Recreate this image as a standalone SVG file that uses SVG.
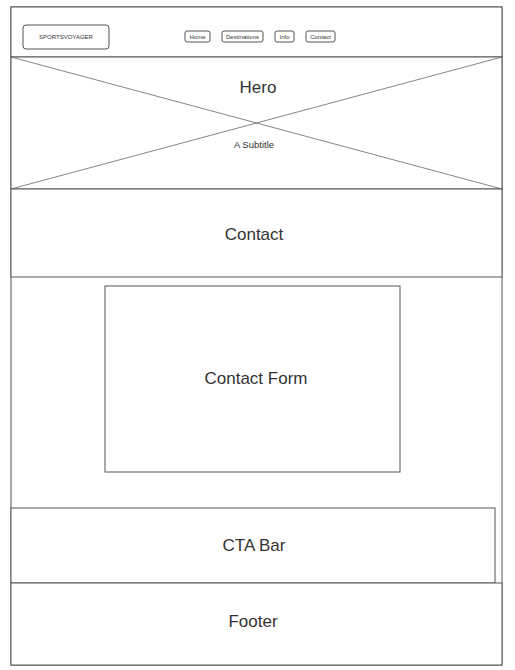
<svg xmlns="http://www.w3.org/2000/svg" width="515" height="670" viewBox="0 0 515 670">
<style>
.box{fill:#fff;stroke:#555;stroke-width:1}
.thin{fill:none;stroke:#666;stroke-width:0.8}
.t{font-family:"Liberation Sans",Arial,sans-serif;fill:#333;text-anchor:middle;dominant-baseline:central}
.big{font-size:17px}
.sm{font-size:9.5px}
.nav{font-size:6px}
</style>
<rect width="515" height="670" fill="#fff"/>
<g id="page">
<rect class="box" x="11" y="7" width="491" height="658"/>
</g>
<g id="header">
<rect class="box" x="11" y="7" width="491" height="50"/>
<g id="logo">
<rect class="box" x="23" y="25" width="86" height="24" rx="3"/>
<text class="t nav" x="66" y="37">SPORTSVOYAGER</text>
</g>
<g id="nav-home"><rect class="box" x="185" y="31" width="25" height="11" rx="2"/><text class="t nav" x="197.5" y="36.5">Home</text></g>
<g id="nav-destinations"><rect class="box" x="222" y="31" width="41" height="11" rx="2"/><text class="t nav" x="242.5" y="36.5">Destinations</text></g>
<g id="nav-info"><rect class="box" x="275" y="31" width="19" height="11" rx="2"/><text class="t nav" x="284.5" y="36.5">Info</text></g>
<g id="nav-contact"><rect class="box" x="306" y="31" width="29" height="11" rx="2"/><text class="t nav" x="320.5" y="36.5">Contact</text></g>
</g>
<g id="hero">
<rect class="box" x="11" y="57" width="491" height="132"/>
<line class="thin" x1="11" y1="57" x2="502" y2="189"/>
<line class="thin" x1="11" y1="189" x2="502" y2="57"/>
<text class="t big" x="258" y="87">Hero</text>
<text class="t sm" x="254" y="144">A Subtitle</text>
</g>
<g id="contact">
<rect class="box" x="11" y="189" width="491" height="88"/>
<text class="t big" x="254" y="234">Contact</text>
</g>
<g id="contact-form">
<rect class="box" x="105" y="286" width="295" height="186"/>
<text class="t big" x="256" y="378">Contact Form</text>
</g>
<g id="cta-bar">
<rect class="box" x="11" y="508" width="484" height="75"/>
<text class="t big" x="254" y="545">CTA Bar</text>
</g>
<g id="footer">
<rect class="box" x="11" y="583" width="491" height="82"/>
<text class="t big" x="253" y="621">Footer</text>
</g>
<g id="connectors"></g>
</svg>
